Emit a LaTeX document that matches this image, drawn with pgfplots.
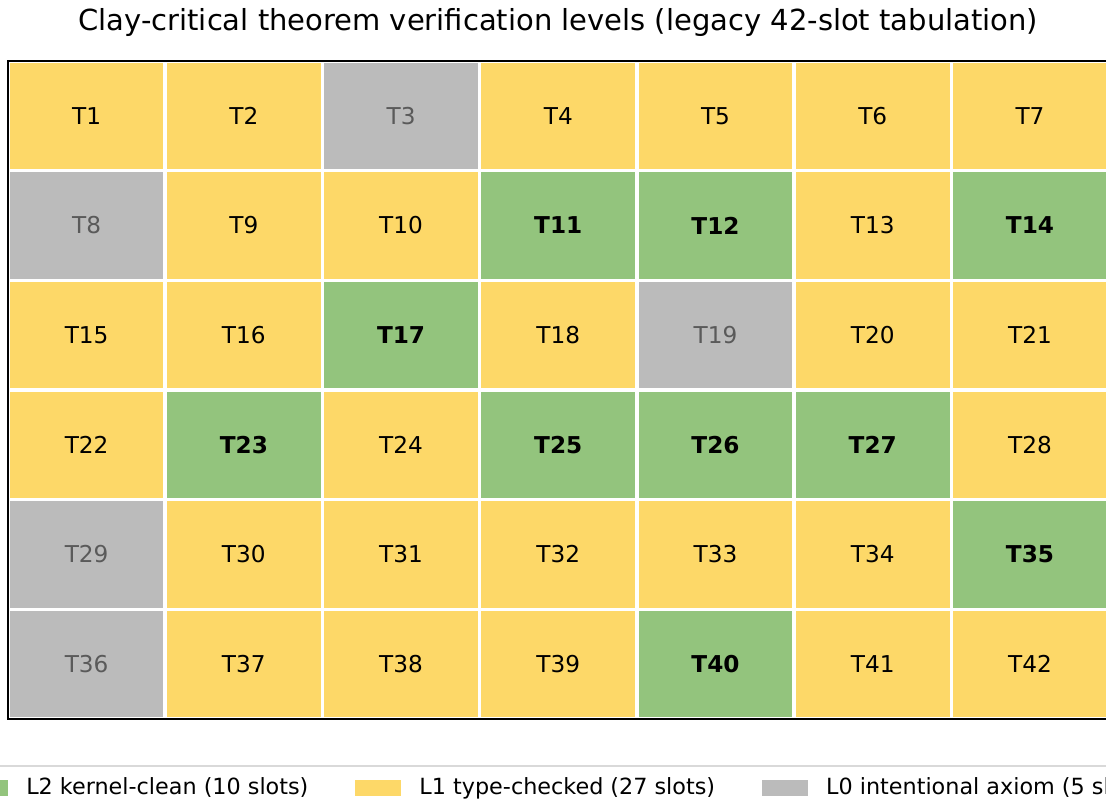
\documentclass[border=0pt]{standalone}
\usepackage{fontspec}
\setmainfont{DejaVu Sans}
\usepackage{pgfplots}
\pgfplotsset{compat=1.18}
\definecolor{cGreen}{RGB}{147,196,125}
\definecolor{cYellow}{RGB}{253,216,104}
\definecolor{cGray}{RGB}{187,187,187}
\definecolor{cDimText}{RGB}{90,90,90}
\begin{document}
\begin{tikzpicture}
% the reference is a crop of a wider figure
\useasboundingbox (-4pt,-43.5pt) rectangle (549pt,359.5pt);
\clip (-4pt,-43.5pt) rectangle (549pt,359.5pt);
\begin{axis}[
    at={(0pt,0pt)}, anchor=south west,
    scale only axis, width=550.3pt, height=329pt,
    xmin=0, xmax=7, ymin=0, ymax=6, y dir=reverse,
    xtick={0,...,7}, ytick={0,...,6},
    xticklabels={}, yticklabels={},
    major tick length=0pt,
    grid=major, major grid style={white, line width=1.8pt},
    axis on top, axis line style={line width=1pt},
    unbounded coords=jump,
    title={Clay-critical theorem verification levels (legacy 42-slot tabulation)},
    title style={at={(0.5,1)}, anchor=base, yshift=9.5pt, font=\fontsize{14.5}{17}\selectfont},
    legend columns=3,
    legend style={at={(-0.0597,-0.07067)}, anchor=north west, draw=gray!30, line width=1pt,
        inner xsep=10pt, inner ysep=6.25pt, outer sep=0pt,
        nodes={inner sep=0pt},
        font=\fontsize{11.15}{13}\selectfont, column sep=0pt,
        /tikz/every odd column/.append style={column sep=9pt},
        /tikz/every even column/.append style={column sep=23.5pt},
        cells={anchor=west}},
    legend image code/.code={\fill[#1, draw=none] (0pt,-4pt) rectangle (23pt,4pt);},
    every node near coord/.append style={anchor=center, inner sep=0pt, font=\fontsize{11.6}{14}\selectfont},
]
% L1 type-checked cells (runs per row)
\addplot[fill=cYellow, draw=none, forget plot] coordinates {
    (0,0)(2,0)(2,1)(0,1)(0,0)(nan,nan) (3,0)(7,0)(7,1)(3,1)(3,0)(nan,nan)
    (1,1)(3,1)(3,2)(1,2)(1,1)(nan,nan) (5,1)(6,1)(6,2)(5,2)(5,1)(nan,nan)
    (0,2)(2,2)(2,3)(0,3)(0,2)(nan,nan) (3,2)(4,2)(4,3)(3,3)(3,2)(nan,nan) (5,2)(7,2)(7,3)(5,3)(5,2)(nan,nan)
    (0,3)(1,3)(1,4)(0,4)(0,3)(nan,nan) (2,3)(3,3)(3,4)(2,4)(2,3)(nan,nan) (6,3)(7,3)(7,4)(6,4)(6,3)(nan,nan)
    (1,4)(6,4)(6,5)(1,5)(1,4)(nan,nan)
    (1,5)(4,5)(4,6)(1,6)(1,5)(nan,nan) (5,5)(7,5)(7,6)(5,6)(5,5)};
% L2 kernel-clean cells
\addplot[fill=cGreen, draw=none, forget plot] coordinates {
    (3,1)(5,1)(5,2)(3,2)(3,1)(nan,nan) (6,1)(7,1)(7,2)(6,2)(6,1)(nan,nan)
    (2,2)(3,2)(3,3)(2,3)(2,2)(nan,nan)
    (1,3)(2,3)(2,4)(1,4)(1,3)(nan,nan) (3,3)(6,3)(6,4)(3,4)(3,3)(nan,nan)
    (6,4)(7,4)(7,5)(6,5)(6,4)(nan,nan)
    (4,5)(5,5)(5,6)(4,6)(4,5)};
% L0 intentional axiom cells
\addplot[fill=cGray, draw=none, forget plot] coordinates {
    (2,0)(3,0)(3,1)(2,1)(2,0)(nan,nan)
    (0,1)(1,1)(1,2)(0,2)(0,1)(nan,nan)
    (4,2)(5,2)(5,3)(4,3)(4,2)(nan,nan)
    (0,4)(1,4)(1,6)(0,6)(0,4)};
% labels
\addplot[only marks, mark=none, forget plot, nodes near coords, point meta=explicit symbolic,
    every node near coord/.append style={text=black}]
    table[meta=lab, row sep=\\] {
    x y lab \\ 0.5 0.5 T1 \\ 1.5 0.5 T2 \\ 3.5 0.5 T4 \\ 4.5 0.5 T5 \\ 5.5 0.5 T6 \\ 6.5 0.5 T7 \\
    1.5 1.5 T9 \\ 2.5 1.5 T10 \\ 5.5 1.5 T13 \\
    0.5 2.5 T15 \\ 1.5 2.5 T16 \\ 3.5 2.5 T18 \\ 5.5 2.5 T20 \\ 6.5 2.5 T21 \\
    0.5 3.5 T22 \\ 2.5 3.5 T24 \\ 6.5 3.5 T28 \\
    1.5 4.5 T30 \\ 2.5 4.5 T31 \\ 3.5 4.5 T32 \\ 4.5 4.5 T33 \\ 5.5 4.5 T34 \\
    1.5 5.5 T37 \\ 2.5 5.5 T38 \\ 3.5 5.5 T39 \\ 5.5 5.5 T41 \\ 6.5 5.5 T42 \\
    };
\addplot[only marks, mark=none, forget plot, nodes near coords, point meta=explicit symbolic,
    every node near coord/.append style={text=black, font=\fontsize{11.6}{14}\selectfont\bfseries}]
    table[meta=lab, row sep=\\] {
    x y lab \\ 3.5 1.5 T11 \\ 4.5 1.5 T12 \\ 6.5 1.5 T14 \\ 2.5 2.5 T17 \\
    1.5 3.5 T23 \\ 3.5 3.5 T25 \\ 4.5 3.5 T26 \\ 5.5 3.5 T27 \\ 6.5 4.5 T35 \\ 4.5 5.5 T40 \\
    };
\addplot[only marks, mark=none, forget plot, nodes near coords, point meta=explicit symbolic,
    every node near coord/.append style={text=cDimText}]
    table[meta=lab, row sep=\\] {
    x y lab \\ 2.5 0.5 T3 \\ 0.5 1.5 T8 \\ 4.5 2.5 T19 \\ 0.5 4.5 T29 \\ 0.5 5.5 T36 \\
    };
\addlegendimage{fill=cGreen}
\addlegendentry{L2 kernel-clean (10 slots)}
\addlegendimage{fill=cYellow}
\addlegendentry{L1 type-checked (27 slots)}
\addlegendimage{fill=cGray}
\addlegendentry{L0 intentional axiom (5 slots)}
\end{axis}
\end{tikzpicture}
\end{document}
